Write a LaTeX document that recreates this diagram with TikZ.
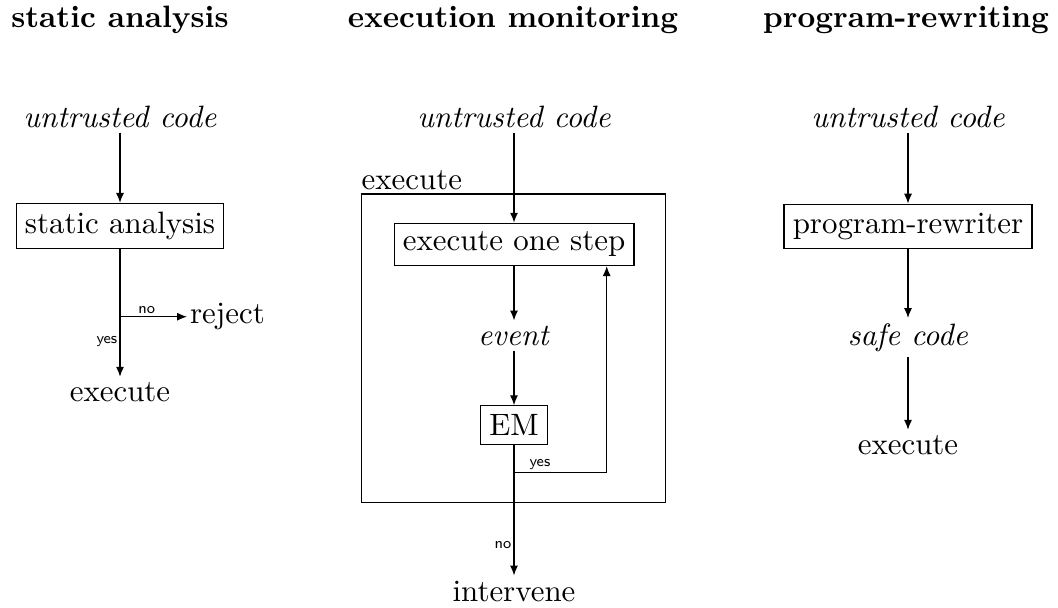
\documentclass[tikz,border=0pt]{standalone}
\usetikzlibrary{arrows.meta}
\begin{document}
\begin{tikzpicture}[x=0.3236pt,y=-0.3236pt,
  txt/.style={inner sep=1.5pt},
  box/.style={draw,inner sep=2.8pt},
  lbl/.style={font=\tiny\sffamily,inner sep=0.7pt},
  arr/.style={-{Latex[length=3.2pt,width=2.6pt]}},
  ttl/.style={font=\bfseries,anchor=base,inner sep=0pt}]
\useasboundingbox (0,0) rectangle (1058,607);

% titles
\node[ttl] (t1) at (120,27) {static analysis};
\node[ttl] (t2) at (513,27) {execution monitoring};
\node[ttl] (t3) at (906,27) {program-rewriting};

% static analysis column
\node[txt,anchor=base] (u1) at (120,127) {\textit{untrusted code}};
\node[box] (sa) at (120,226) {static analysis};
\node[txt,anchor=base] (ex1) at (120,401) {execute};
\node[anchor=west,inner sep=0.8pt] (rej) at (187,316.7) {reject};
\coordinate (b1) at (120,316.7);
\draw[arr] (u1) -- (sa);
\draw[arr] (sa) -- node[lbl,left,pos=0.725]{yes} (ex1);
\draw[arr] (b1) -- node[lbl,above,pos=0.4]{no} (rej);

% execution monitoring column
\node[txt,anchor=base] (u2) at (514,127) {\textit{untrusted code}};
\node[draw,inner sep=0pt,minimum width=98.4pt,minimum height=99.9pt] (outer) at (513.7,348.35) {};
\node[anchor=base west,inner sep=0pt] (exl) at ([yshift=1.1pt]outer.north west) {execute};
\node[box] (step) at (514,244.4) {execute one step};
\node[txt,anchor=base] (ev) at (514,345) {\textit{event}};
\node[box] (em) at (514,425) {EM};
\node[txt,anchor=base] (int) at (514,601) {intervene};
\coordinate (b2) at (514,472.7);
\coordinate (c2) at (606.7,472.7);
\draw[arr] (u2) -- (step);
\draw[arr] (step) -- (ev);
\draw[arr] (ev) -- (em);
\draw[arr] (em) -- node[lbl,left,pos=0.767]{no} (int);
\draw[arr] (b2) -- node[lbl,above,pos=0.28]{yes} (c2) -- (step.south -| c2);

% program-rewriting column
\node[txt,anchor=base] (u3) at (908,127) {\textit{untrusted code}};
\node[box] (pr) at (908,226.2) {program-rewriter};
\node[txt,anchor=base] (sc) at (908,345) {\textit{safe code}};
\node[txt,anchor=base] (ex3) at (908,454) {execute};
\draw[arr] (u3) -- (pr);
\draw[arr] (pr) -- (sc);
\draw[arr] (sc) -- (ex3);
\end{tikzpicture}
\end{document}
